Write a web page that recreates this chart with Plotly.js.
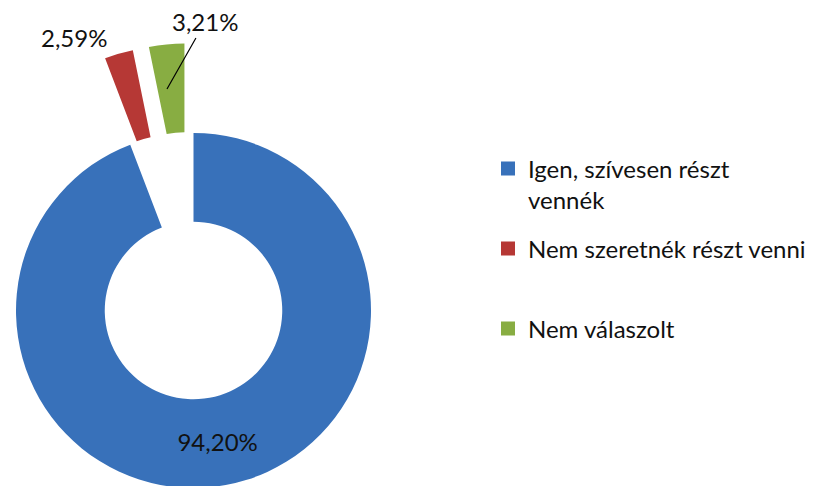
<!DOCTYPE html>
<html><head><meta charset="utf-8">
<script src="https://cdn.plot.ly/plotly-3.0.1.min.js"></script>
<style>
html,body{margin:0;padding:0;overflow:hidden;background:#fff;width:813px;height:486px}
#chart{position:absolute;left:-20px;top:0;width:833px;height:500px}
</style>
</head><body><div id="chart"></div>
<script>
// ---- data ----
const categories = ["Igen, szívesen részt vennék", "Nem szeretnék részt venni", "Nem válaszolt"];
const legendLabels = ["Igen, szívesen részt<br>vennék", "Nem szeretnék részt venni", "Nem válaszolt"];
const shares = [94.20, 2.59, 3.21];
const colors = ["#3871BA", "#B63835", "#88AD42"];
const exploded = [false, true, true];

// ---- geometry / style ----
const SHIFT = 20, W = 833, H = 500;
const R = 177.5, CX = 193.5 + SHIFT, CY = 310.5, PULL_PX = 90;
const FONT = "Lato, 'Open Sans', sans-serif";
const fmt = v => v.toFixed(2).replace('.', ',') + '%';

function domainFor(cx, cy) {
  return {x: [(cx - R) / W, (cx + R) / W], y: [1 - (cy + R) / H, 1 - (cy - R) / H]};
}
const total = shares.reduce((a, b) => a + b, 0);
let cum = 0;
const traces = [];
shares.forEach((v, i) => {
  const mid = (cum + v / 2) / total * 2 * Math.PI; cum += v;
  const off = exploded[i] ? PULL_PX : 0;
  const cx = CX + Math.sin(mid) * off, cy = CY - Math.cos(mid) * off;
  traces.push({
    type: 'pie', values: shares, labels: categories, sort: false,
    direction: 'clockwise', rotation: 0, hole: 0.5,
    marker: {colors: colors.map((c, j) => j === i ? c : 'rgba(0,0,0,0)'), line: {width: 0}},
    texttemplate: shares.map((s, j) => (j === i && !exploded[i]) ? '%{value:.2f}%' : ''),
    textposition: 'inside', insidetextorientation: 'horizontal',
    textfont: {family: FONT, size: 24, color: '#111'},
    showlegend: false, hoverinfo: 'label+percent', domain: domainFor(cx, cy)
  });
});
// legend entries
categories.forEach((c, i) => {
  traces.push({
    type: 'pie', values: [shares[i]], labels: [legendLabels[i]], sort: false,
    marker: {colors: [colors[i]], line: {color: colors[i], width: 2}},
    textinfo: 'none', hoverinfo: 'skip',
    domain: {x: [0.999, 1], y: [0, 0.001]},
    legend: i === 0 ? 'legend' : 'legend' + (i + 1), showlegend: true
  });
});

const legendBase = {xanchor: 'left', yanchor: 'top', valign: 'top',
  font: {family: FONT, size: 24, color: '#111'}, bgcolor: 'rgba(0,0,0,0)'};
const legTextX = 528 + SHIFT;
const baselines = [178.3, 258.3, 338.3];
function legPos(i) {
  return Object.assign({}, legendBase, {x: (legTextX - 40) / W, y: 1 - (baselines[i] - 32) / H});
}

// exploded slice labels
const annotations = [
  {x: (74 + SHIFT) / W, y: 1 - 38 / H, text: fmt(shares[1]), showarrow: false,
   xanchor: 'center', yanchor: 'middle'},
  {x: (167 + SHIFT) / W, y: 1 - 89 / H, ax: 38, ay: -67, text: fmt(shares[2]), showarrow: true,
   arrowhead: 0, arrowwidth: 1.2, arrowcolor: '#000', standoff: 0}
].map(a => Object.assign({xref: 'paper', yref: 'paper', font: {family: FONT, size: 24, color: '#111'}}, a));

const layout = {
  width: W, height: H, margin: {l: 0, r: 0, t: 0, b: 0},
  paper_bgcolor: '#fff', separators: ', ', showlegend: true,
  legend: legPos(0), legend2: legPos(1), legend3: legPos(2),
  annotations: annotations
};
Plotly.newPlot('chart', traces, layout, {staticPlot: true});
</script>
</body></html>
